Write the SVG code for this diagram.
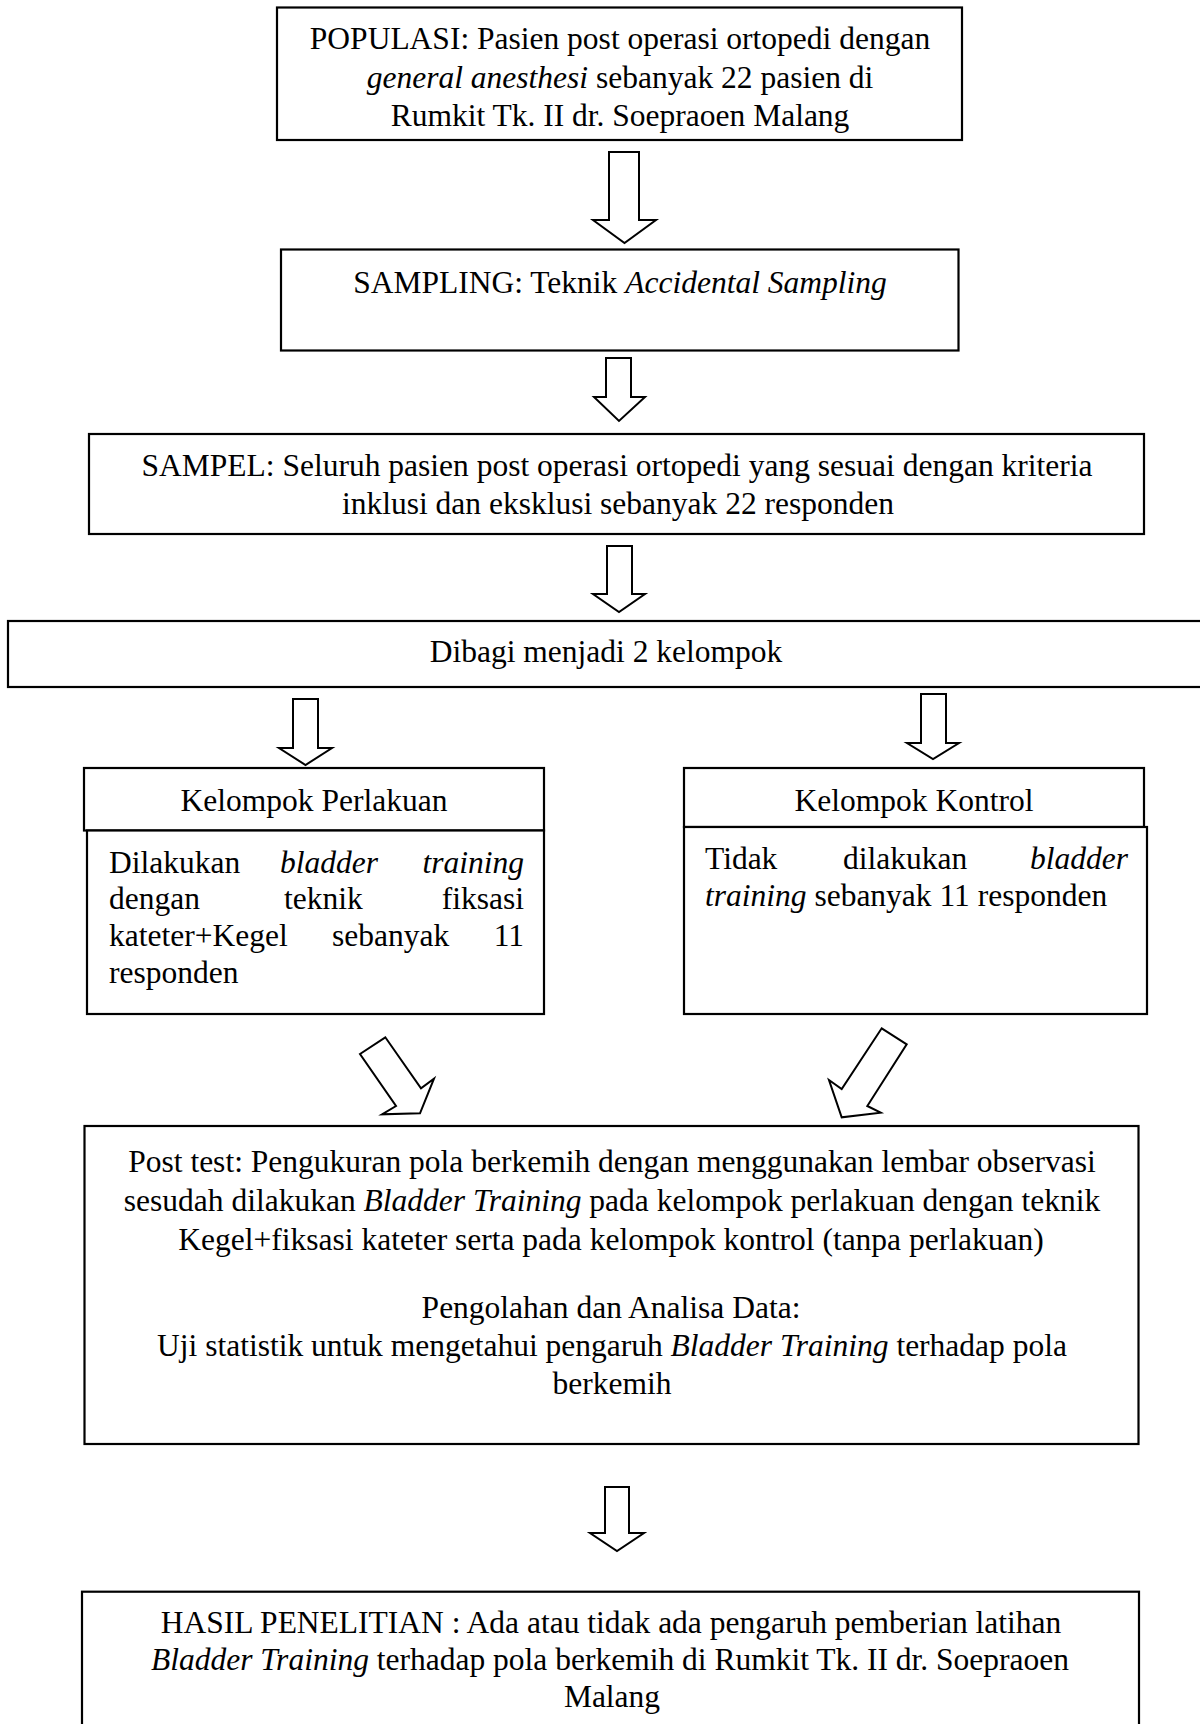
<svg xmlns="http://www.w3.org/2000/svg" width="1200" height="1724" viewBox="0 0 1200 1724">
<style>
.box{fill:#fff;stroke:#000;stroke-width:2.2}
.arr{fill:#fff;stroke:#000;stroke-width:2;stroke-linejoin:miter}
text{font-family:"Liberation Serif","Times New Roman",serif;font-size:31.5px;fill:#000}
.c{text-anchor:middle}
.e{text-anchor:end}
.i{font-style:italic}
</style>
<rect width="1200" height="1724" fill="#fff"/>
<g id="connectors">
<polygon class="arr" points="609,152 639,152 639,220 656,220 624.5,243 593,220 609,220"/>
<polygon class="arr" points="606,358 631,358 631,397 645,397 619,421 594,397 606,397"/>
<polygon class="arr" points="607,546 632,546 632,594 645,594 619,612 593,594 607,594"/>
<polygon class="arr" points="293,699 318,699 318,748 332,748 305.5,765 279,748 293,748"/>
<polygon class="arr" points="921,694 946,694 946,743 959,743 933,759 907,743 921,743"/>
<polygon class="arr" points="360,1054 385.3,1037.3 421,1088.3 434,1078.7 420,1113.3 382,1114.3 396,1106"/>
<polygon class="arr" points="881.7,1028.3 906.7,1044.3 867.3,1106 880.7,1112.7 841.7,1117.3 829,1080 841.7,1089"/>
<polygon class="arr" points="605,1487 629,1487 629,1533 644,1533 617,1551 590,1533 605,1533"/>
</g>
<g id="populasi">
<rect class="box" x="277" y="7.5" width="685" height="132.5"/>
<text class="c" x="620" y="49">POPULASI: Pasien post operasi ortopedi dengan</text>
<text class="c" x="620" y="88"><tspan class="i">general anesthesi</tspan> sebanyak 22 pasien di</text>
<text class="c" x="620" y="126">Rumkit  Tk. II dr. Soepraoen Malang</text>
</g>
<g id="sampling">
<rect class="box" x="281" y="249.5" width="677.5" height="101"/>
<text class="c" x="620" y="293">SAMPLING: Teknik <tspan class="i">Accidental Sampling</tspan></text>
</g>
<g id="sampel">
<rect class="box" x="89" y="434" width="1055" height="100"/>
<text class="c" x="617" y="476">SAMPEL: Seluruh pasien post operasi ortopedi yang sesuai dengan kriteria</text>
<text class="c" x="618" y="514">inklusi dan eksklusi sebanyak 22 responden</text>
</g>
<g id="dibagi">
<rect class="box" x="8" y="621" width="1200" height="66"/>
<text class="c" x="606" y="662">Dibagi menjadi 2 kelompok</text>
</g>
<g id="perlakuan-header">
<rect class="box" x="84" y="768" width="460" height="62.5"/>
<text class="c" x="314" y="811">Kelompok Perlakuan</text>
</g>
<g id="perlakuan-body">
<rect class="box" x="87" y="830.5" width="457" height="183.5"/>
<text x="109" y="872.5">Dilakukan</text>
<text class="i" x="280" y="872.5">bladder</text>
<text class="i e" x="524" y="872.5">training</text>
<text x="109" y="909">dengan</text>
<text x="284" y="909">teknik</text>
<text class="e" x="524" y="909">fiksasi</text>
<text x="109" y="946">kateter+Kegel</text>
<text x="332" y="946">sebanyak</text>
<text class="e" x="524" y="946">11</text>
<text x="109" y="982.7">responden</text>
</g>
<g id="kontrol-header">
<rect class="box" x="684" y="768" width="460" height="59"/>
<text class="c" x="914" y="811">Kelompok Kontrol</text>
</g>
<g id="kontrol-body">
<rect class="box" x="684" y="827" width="463" height="187"/>
<text x="705" y="869">Tidak</text>
<text x="843" y="869">dilakukan</text>
<text class="i e" x="1128" y="869">bladder</text>
<text x="705" y="906"><tspan class="i">training</tspan> sebanyak 11 responden</text>
</g>
<g id="posttest">
<rect class="box" x="84.5" y="1126" width="1054" height="318"/>
<text class="c" x="612" y="1172">Post test: Pengukuran pola berkemih dengan menggunakan lembar observasi</text>
<text class="c" x="612" y="1211">sesudah dilakukan <tspan class="i">Bladder Training</tspan> pada kelompok perlakuan dengan teknik</text>
<text class="c" x="611" y="1250">Kegel+fiksasi kateter serta pada kelompok kontrol (tanpa perlakuan)</text>
<text class="c" x="611" y="1318">Pengolahan dan Analisa Data:</text>
<text class="c" x="612" y="1356">Uji statistik untuk mengetahui pengaruh <tspan class="i">Bladder Training</tspan> terhadap pola</text>
<text class="c" x="612" y="1394">berkemih</text>
</g>
<g id="hasil">
<rect class="box" x="82" y="1591.7" width="1057" height="200"/>
<text class="c" x="611" y="1633">HASIL PENELITIAN : Ada atau tidak ada pengaruh pemberian latihan</text>
<text class="c" x="610" y="1670"><tspan class="i">Bladder Training</tspan> terhadap pola berkemih di Rumkit Tk. II dr. Soepraoen</text>
<text class="c" x="612" y="1707">Malang</text>
</g>
</svg>
